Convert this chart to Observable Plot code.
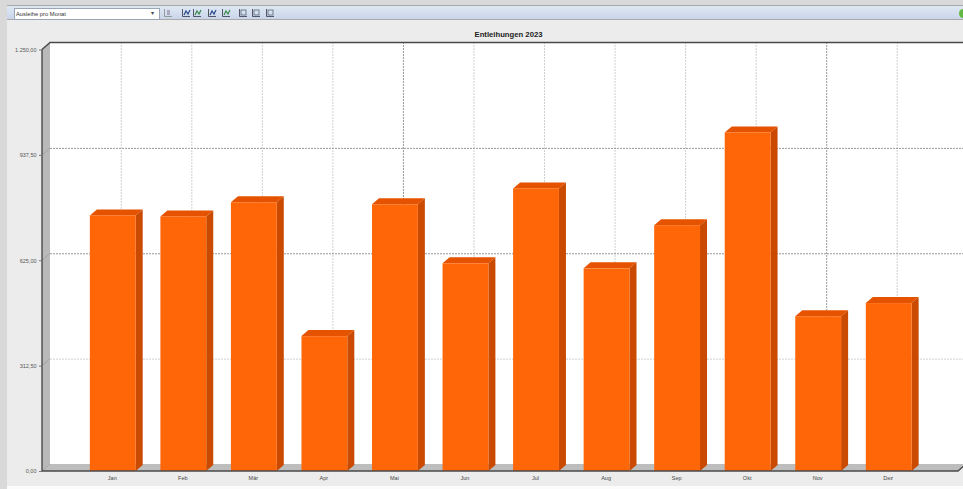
<!DOCTYPE html>
<html><head><meta charset="utf-8">
<script src="https://cdn.jsdelivr.net/npm/d3@7"></script>
<script src="https://cdn.jsdelivr.net/npm/@observablehq/plot@0.6"></script>
<style>
html,body{margin:0;padding:0;background:#d9d9d9;width:963px;height:489px;overflow:hidden;font-family:"Liberation Sans",Arial,sans-serif}
#panel{position:absolute;left:7px;top:0;width:956px;height:486px;background:#ececec}
#topgrey{position:absolute;left:0;top:0;width:956px;height:5px;background:#d9d9d9}
#bar{position:absolute;left:0;top:5px;width:956px;height:13px;background:linear-gradient(#dfe7f3,#c9d6ea);border-top:1px solid #a9a9a9;border-bottom:1px solid #a9a9a9}
#select{position:absolute;left:14px;top:7.5px;width:143px;height:10px;background:#fff;border:1px solid #9aa5b5;font-size:5.8px;line-height:10px;color:#333;padding-left:1px}
#arrow{position:absolute;left:151px;top:9px;font-size:6px;line-height:8px;color:#444}
#icons{position:absolute;left:160px;top:6px}
#led{position:absolute;left:959px;top:9px;width:8px;height:9px;border-radius:50%;background:#63b944}
#title{position:absolute;left:0;width:963px;top:29px;text-align:center;padding-left:54px;box-sizing:border-box;font-size:7.7px;line-height:11px;font-weight:bold;color:#222}
#chart{position:absolute;left:0;top:40px}
#foot{position:absolute;left:7px;top:486px;width:956px;height:3px;background:#fbfbfb}
svg{display:block}
</style></head>
<body>
<div id="panel"><div id="topgrey"></div><div id="bar"></div></div>
<div id="select">Ausleihe pro Monat</div><div id="arrow">&#9662;</div>
<svg id="icons" width="120" height="14"></svg>
<div id="led"></div>
<div id="title">Entleihungen 2023</div>
<div id="chart"></div>
<div id="foot"></div>
<script>
const months = ["Jan","Feb","Mär","Apr","Mai","Jun","Jul","Aug","Sep","Okt","Nov","Dez"];
const loans = [758,755,797,400,791,616,838,601,729,1004,459,498];
const yTicks = [0,312.5,625,937.5,1250];
const gridY = [312.5,625,937.5];
const darkX = ["Mai","Nov"];
const darkY = [625,937.5];

const rows = months.map((m,i)=>({month:m,value:loans[i]}));
const fmt = d3.format(",.2f");
const de = v => fmt(v).replace(/[.,]/g,c=>c==="."?",":".");
const wall = {dx:8, dy:-7}, depth = {dx:7, dy:6};

const poly = (g,pts,fill) => g.append("polygon").attr("points",pts.map(p=>p.join(",")).join(" ")).attr("fill",fill);

function walls(index, scales, values, dims){
  const g = d3.create("svg:g");
  const x0 = dims.marginLeft, x1 = dims.width - dims.marginRight;
  const yb = scales.y(0), yt = scales.y(1250);
  poly(g,[[x0+wall.dx,yt+wall.dy],[x1+wall.dx,yt+wall.dy],[x1+wall.dx,yb+wall.dy],[x0+wall.dx,yb+wall.dy]],"#ffffff");
  poly(g,[[x0,yt],[x0+wall.dx,yt+wall.dy],[x0+wall.dx,yb+wall.dy],[x0,yb]],"#b9b9b9");
  poly(g,[[x0,yb],[x0+wall.dx,yb+wall.dy],[x1+wall.dx,yb+wall.dy],[x1,yb]],"#bdbdbd");
  return g.node();
}
function tickDiagonals(index, scales, values, dims){
  const g = d3.create("svg:g").attr("stroke","#999").attr("stroke-width",0.7);
  const x0 = dims.marginLeft;
  for (const t of yTicks) g.append("line").attr("x1",x0).attr("x2",x0+wall.dx)
    .attr("y1",scales.y(t)).attr("y2",scales.y(t)+wall.dy);
  return g.node();
}
function faces(index, scales){
  const g = d3.create("svg:g");
  const w = scales.x.bandwidth();
  for (const r of rows){
    const l = scales.x(r.month), top = scales.y(r.value), bot = scales.y(0);
    poly(g,[[l,top],[l+depth.dx,top-depth.dy],[l+w+depth.dx,top-depth.dy],[l+w,top]],"#e65300");
    poly(g,[[l+w,top],[l+w+depth.dx,top-depth.dy],[l+w+depth.dx,bot-depth.dy],[l+w,bot]],"#c94a00");
  }
  return g.node();
}
function frameLines(index, scales, values, dims){
  const g = d3.create("svg:g").attr("fill","none");
  const x0 = dims.marginLeft, x1 = dims.width - dims.marginRight;
  const yb = scales.y(0), yt = scales.y(1250);
  g.append("path").attr("d",`M${x0},${yb}V${yt}L${x0+wall.dx},${yt+wall.dy}H${x1+wall.dx}`)
    .attr("stroke","#4a4a4a").attr("stroke-width",1.4);
  g.append("path").attr("d",`M${x0},${yb}H${x1}L${x1+wall.dx},${yb+wall.dy}`)
    .attr("stroke","#4a4a4a").attr("stroke-width",1.4);
  return g.node();
}

const chart = Plot.plot({
  width:963, height:446,
  marginLeft:42, marginRight:5, marginTop:9.5, marginBottom:15,
  style:{background:"transparent",fontFamily:"'Liberation Sans',Arial,sans-serif"},
  x:{domain:months, type:"band", round:false, paddingInner:0.35, paddingOuter:0.175, insetLeft:35.5, insetRight:34, label:null},
  y:{domain:[0,1250], label:null},
  marks:[
    walls,
    Plot.ruleX(months,{x:d=>d, y1:0, y2:1250, dx:wall.dx, dy:wall.dy,
      stroke:d=>darkX.includes(d)?"#999":"#d0d0d0", strokeWidth:1, strokeDasharray:"2 1"}),
    Plot.ruleY(gridY,{y:d=>d, dx:wall.dx, dy:wall.dy,
      stroke:d=>darkY.includes(d)?"#999":"#d0d0d0", strokeWidth:1, strokeDasharray:"2 1"}),
    tickDiagonals,
    faces,
    Plot.barY(rows,{x:"month", y:"value", fill:"#ff6608"}),
    frameLines,
    Plot.axisX({tickSize:0, tickPadding:5, dx:-1, fontSize:5.5, fill:"#444", label:null}),
    Plot.axisY({ticks:yTicks, tickFormat:de, tickSize:3, tickPadding:3, fontSize:5.5, fill:"#555", stroke:"#777", label:null})
  ]
});
chart.style.overflow="hidden";
document.getElementById("chart").append(chart);

// toolbar glyphs
const ic = d3.select("#icons");
const slots = [8,26,37,52,66,83,96,110];
slots.forEach((x,i)=>{
  const g = ic.append("g").attr("transform",`translate(${x-4},3)`);
  g.append("path").attr("d","M0.5,0V7.5H8").attr("fill","none").attr("stroke",i===0?"#888":"#334").attr("stroke-width",0.8);
  if(i===0) g.append("rect").attr("x",3).attr("y",1).attr("width",3).attr("height",5).attr("fill","#aab");
  else if(i<5) g.append("path").attr("d","M2,6L4,2L6,5L8,1").attr("fill","none").attr("stroke",i%2?"#2b4a8a":"#3a8a4a").attr("stroke-width",1.2);
  else g.append("rect").attr("x",2).attr("y",1).attr("width",5).attr("height",5).attr("fill","none").attr("stroke","#567").attr("stroke-width",0.8);
});
</script>
</body></html>
